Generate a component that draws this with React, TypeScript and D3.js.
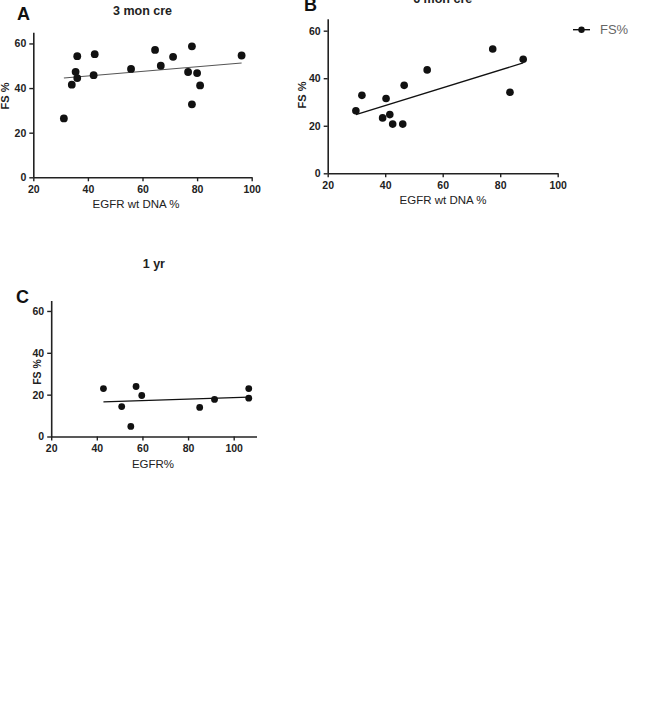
import React, { useEffect, useRef } from 'react';
import * as d3 from 'd3';

// EGFR wild-type DNA % vs fractional shortening at three time points
const egfr3mon = [31.2, 34.1, 35.5, 36.1, 36.1, 42.1, 42.5, 55.8, 64.6, 66.7, 71.2, 76.7, 78.1, 78.1, 80.0, 81.1, 96.3];
const fs3mon = [26.4, 41.5, 47.3, 44.5, 54.3, 45.8, 55.2, 48.6, 57.1, 50.0, 54.0, 47.2, 58.7, 32.7, 46.7, 41.2, 54.6];

const egfr6mon = [29.8, 31.9, 39.1, 40.3, 41.6, 42.6, 46.1, 46.6, 54.6, 77.4, 83.4, 88.0];
const fs6mon = [26.3, 32.8, 23.3, 31.5, 24.7, 20.7, 20.7, 37.0, 43.5, 52.3, 34.1, 48.0];

const egfr1yr = [42.9, 50.9, 54.9, 57.2, 59.7, 85.1, 91.6, 106.6, 106.6];
const fs1yr = [22.9, 14.3, 4.8, 23.9, 19.6, 13.9, 17.7, 22.9, 18.3];

const yTicks = [0, 20, 40, 60];
const xTicks = [20, 40, 60, 80, 100];
const legendLabel = 'FS%';

const FONT = "Arial, 'Liberation Sans', sans-serif";

interface PanelConfig {
  letter: string;
  title: string;
  xLabel: string;
  xs: number[];
  ys: number[];
  xDomain: [number, number];
  left: number;
  right: number;
  top: number;
  bottom: number;
  letterPos: [number, number];
  titleY: number;
  xLabelX: number;
  yLabelPos: [number, number];
  yLabelSize: number;
  dotR: number;
  lineColor: string;
  lineWidth: number;
}

const panels: PanelConfig[] = [
  {
    letter: 'A', title: '3 mon cre', xLabel: 'EGFR wt DNA %',
    xs: egfr3mon, ys: fs3mon, xDomain: [20, 100],
    left: 33.3, right: 251.7, top: 32.3, bottom: 177.3,
    letterPos: [17, 20], titleY: 15, xLabelX: 136, yLabelPos: [9, 96], yLabelSize: 11,
    dotR: 3.9, lineColor: '#555', lineWidth: 1.1
  },
  {
    letter: 'B', title: '6 mon cre', xLabel: 'EGFR wt DNA %',
    xs: egfr6mon, ys: fs6mon, xDomain: [20, 100],
    left: 327.7, right: 557.7, top: 18.8, bottom: 173.3,
    letterPos: [304, 11], titleY: 2.5, xLabelX: 443, yLabelPos: [306, 95], yLabelSize: 11,
    dotR: 3.8, lineColor: '#111', lineWidth: 1.4
  },
  {
    letter: 'C', title: '1 yr', xLabel: 'EGFR%',
    xs: egfr1yr, ys: fs1yr, xDomain: [20, 110],
    left: 51.2, right: 256.5, top: 300.5, bottom: 436.5,
    letterPos: [16, 303], titleY: 268, xLabelX: 153, yLabelPos: [41, 372], yLabelSize: 10.5,
    dotR: 3.4, lineColor: '#111', lineWidth: 1.3
  }
];

// ordinary least squares fit
const fitLine = (xs: number[], ys: number[]) => {
  const mx = d3.mean(xs) as number;
  const my = d3.mean(ys) as number;
  const sxy = d3.sum(xs, (x, i) => (x - mx) * (ys[i] - my));
  const sxx = d3.sum(xs, x => (x - mx) ** 2);
  const slope = sxy / sxx;
  return (x: number) => my + slope * (x - mx);
};

const App: React.FC = () => {
  const svgRef = useRef<SVGSVGElement>(null);

  useEffect(() => {
    if (!svgRef.current) return;
    const svg = d3.select(svgRef.current);
    svg.selectAll('*').remove();

    panels.forEach(p => {
      const g = svg.append('g');
      const x = d3.scaleLinear().domain(p.xDomain).range([p.left, p.right]);
      const y = d3.scaleLinear().domain([0, 65]).range([p.bottom, p.top]);

      // Axes
      const xAxis = g.append('g')
        .attr('transform', `translate(0,${p.bottom})`)
        .call(d3.axisBottom(x).tickValues(xTicks).tickSize(4).tickSizeOuter(0).tickPadding(4));
      const yAxis = g.append('g')
        .attr('transform', `translate(${p.left},0)`)
        .call(d3.axisLeft(y).tickValues(yTicks).tickSize(4).tickSizeOuter(0).tickPadding(3));

      [xAxis, yAxis].forEach(ax => {
        ax.select('.domain').attr('stroke', '#222').attr('stroke-width', 1.6);
        ax.selectAll('.tick line').attr('stroke', '#222').attr('stroke-width', 1.4);
        ax.selectAll('.tick text')
          .attr('fill', '#222')
          .style('font-family', FONT)
          .style('font-weight', 'bold')
          .style('font-size', '10.5px');
      });

      // Regression line over the observed range
      const fit = fitLine(p.xs, p.ys);
      const [x0, x1] = d3.extent(p.xs) as [number, number];
      g.append('line')
        .attr('x1', x(x0)).attr('y1', y(fit(x0)))
        .attr('x2', x(x1)).attr('y2', y(fit(x1)))
        .attr('stroke', p.lineColor)
        .attr('stroke-width', p.lineWidth);

      // Points
      g.selectAll('.dot')
        .data(p.xs.map((v, i) => ({ x: v, y: p.ys[i] })))
        .enter()
        .append('circle')
        .attr('class', 'dot')
        .attr('cx', d => x(d.x))
        .attr('cy', d => y(d.y))
        .attr('r', p.dotR)
        .attr('fill', '#111');

      // Panel letter
      g.append('text')
        .attr('x', p.letterPos[0]).attr('y', p.letterPos[1])
        .style('font-family', FONT).style('font-weight', 'bold').style('font-size', '18px')
        .attr('fill', '#111')
        .text(p.letter);

      // Title
      g.append('text')
        .attr('x', (p.left + p.right) / 2).attr('y', p.titleY)
        .attr('text-anchor', 'middle')
        .style('font-family', FONT).style('font-weight', 'bold').style('font-size', '12.5px')
        .attr('fill', '#222')
        .text(p.title);

      // Axis labels
      g.append('text')
        .attr('x', p.xLabelX).attr('y', p.bottom + 31)
        .attr('text-anchor', 'middle')
        .style('font-family', FONT).style('font-size', '11.5px')
        .attr('fill', '#222')
        .text(p.xLabel);

      g.append('text')
        .attr('transform', `translate(${p.yLabelPos[0]},${p.yLabelPos[1]}) rotate(-90)`)
        .attr('text-anchor', 'middle')
        .style('font-family', FONT).style('font-weight', 'bold').style('font-size', `${p.yLabelSize}px`)
        .attr('fill', '#222')
        .text('FS %');
    });

    // Legend
    const legend = svg.append('g').attr('transform', 'translate(573,29.7)');
    legend.append('line')
      .attr('x1', 0).attr('x2', 17)
      .attr('stroke', '#111').attr('stroke-width', 1.4);
    legend.append('circle').attr('cx', 8.5).attr('r', 3.2).attr('fill', '#111');
    legend.append('text')
      .attr('x', 27).attr('y', 4.5)
      .style('font-family', FONT).style('font-size', '13px')
      .attr('fill', '#666')
      .text(legendLabel);
  }, []);

  return (
    <svg
      ref={svgRef}
      width={645}
      height={709}
      style={{ position: 'absolute', left: 0, top: 0, background: '#fff' }}
    />
  );
};

export default App;
